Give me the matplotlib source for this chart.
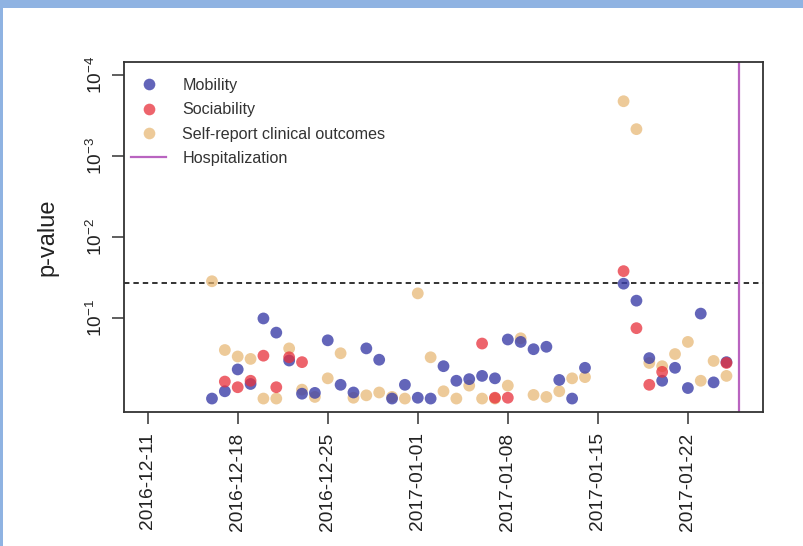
import numpy as np
import pandas as pd
import matplotlib
matplotlib.use("Agg")
import matplotlib.pyplot as plt
import matplotlib.dates as mdates
from matplotlib.lines import Line2D
from matplotlib.patches import Rectangle

plt.rcParams["font.family"] = ["Liberation Sans", "DejaVu Sans"]
plt.rcParams["mathtext.fontset"] = "custom"
plt.rcParams["mathtext.rm"] = "Liberation Sans"
plt.rcParams["mathtext.it"] = "Liberation Sans:italic"

# daily -log10(p) scores, 2016-12-16 .. 2017-01-25
dates = pd.date_range("2016-12-16", "2017-01-25", freq="D")
nan = np.nan
mobility = [
    0.00, 0.09, 0.36, 0.18, 0.99, 0.815, 0.47, 0.06, 0.07, 0.72,
    0.17, 0.075, 0.62, 0.48, 0.00, 0.17, 0.01, 0.00, 0.40, 0.22,
    0.24, 0.28, 0.25, 0.73, 0.70, 0.61, 0.64, 0.23, 0.00, 0.38,
    nan, nan, 1.42, 1.21, 0.50, 0.22, 0.38, 0.13, 1.05, 0.20,
    0.45,
]
sociability = [
    nan, 0.21, 0.14, 0.22, 0.53, 0.14, 0.51, 0.45, nan, nan,
    nan, nan, nan, nan, nan, nan, nan, nan, nan, nan,
    nan, 0.68, 0.01, 0.01, nan, nan, nan, nan, nan, nan,
    nan, nan, 1.575, 0.87, 0.17, 0.33, nan, nan, nan, nan,
    0.44,
]
self_report = [
    1.45, 0.60, 0.52, 0.49, 0.00, 0.00, 0.62, 0.11, 0.02, 0.25,
    0.56, 0.01, 0.04, 0.075, 0.02, 0.00, 1.30, 0.51, 0.09, 0.00,
    0.16, 0.00, 0.00, 0.16, 0.745, 0.045, 0.02, 0.09, 0.25, 0.265,
    nan, nan, 3.675, 3.33, 0.44, 0.40, 0.55, 0.70, 0.22, 0.465,
    0.28,
]
hospitalization = pd.Timestamp("2017-01-26")
threshold = 1.425

tick_dates = ["2016-12-11", "2016-12-18", "2016-12-25", "2017-01-01",
              "2017-01-08", "2017-01-15", "2017-01-22"]
ytick_vals = [1, 2, 3, 4]
ytick_labels = [r"$10^{-1}$", r"$10^{-2}$", r"$10^{-3}$", r"$10^{-4}$"]

BLUE = (0.235, 0.247, 0.66, 0.8)
RED = (0.91, 0.19, 0.23, 0.75)
TAN = (0.90, 0.705, 0.43, 0.7)
PURPLE = "#b964c0"
MS = 72

fig = plt.figure(figsize=(8.04, 5.46), dpi=100)
fig.patch.set_facecolor("white")
# light blue frame along the top and left edges
fig.patches.append(Rectangle((0, 1 - 8 / 546), 1, 8 / 546, transform=fig.transFigure,
                             facecolor="#8fb3e2", edgecolor="none", zorder=0))
fig.patches.append(Rectangle((0, 0), 3 / 804, 1, transform=fig.transFigure,
                             facecolor="#8fb3e2", edgecolor="none", zorder=0))

ax = fig.add_axes([124 / 804, 1 - 411.5 / 546, (763 - 124) / 804, (411.5 - 62) / 546])

x = mdates.date2num(dates)
ax.scatter(x, self_report, s=MS, color=TAN, edgecolors="none", zorder=3)
ax.scatter(x, mobility, s=MS, color=BLUE, edgecolors="none", zorder=4)
ax.scatter(x, sociability, s=MS, color=RED, edgecolors="none", zorder=5)

ax.axhline(threshold, color="#222222", lw=1.3, ls=(0, (3.0, 2.2)), zorder=2)
ax.axvline(mdates.date2num(hospitalization), color=PURPLE, lw=1.6, zorder=2)

x0 = mdates.date2num(pd.Timestamp("2016-12-11"))
x1 = mdates.date2num(hospitalization)
span = x1 - x0
ax.set_xlim(x0 - 0.04 * span, x1 + 0.04 * span)
ax.set_ylim(-0.16, 4.16)

ax.set_xticks(mdates.date2num(pd.to_datetime(tick_dates)))
ax.set_xticklabels(tick_dates, rotation=90, fontsize=13.8, color="#222222")
ax.set_yticks(ytick_vals)
ax.set_yticklabels(ytick_labels, rotation=90, fontsize=13.8, color="#222222",
                   va="center")
ax.tick_params(axis="both", length=8.6, width=1.1, color="#333333")
ax.tick_params(axis="x", pad=6.5)
ax.tick_params(axis="y", pad=4)

ax.set_ylabel("p-value", fontsize=17, color="#222222", labelpad=20)

for spine in ax.spines.values():
    spine.set_color("#333333")
    spine.set_linewidth(1.3)

handles = [
    Line2D([], [], ls="none", marker="o", markersize=8.4, markerfacecolor=BLUE,
           markeredgecolor="none"),
    Line2D([], [], ls="none", marker="o", markersize=8.4, markerfacecolor=RED,
           markeredgecolor="none"),
    Line2D([], [], ls="none", marker="o", markersize=8.4, markerfacecolor=TAN,
           markeredgecolor="none"),
    Line2D([], [], color=PURPLE, lw=1.6),
]
labels = ["Mobility", "Sociability", "Self-report clinical outcomes", "Hospitalization"]
ax.legend(handles, labels, loc="upper left", bbox_to_anchor=(-0.007, 0.987),
          frameon=False, fontsize=11.6, handlelength=2.2, handletextpad=1.0,
          labelspacing=0.58, borderaxespad=0.3, labelcolor="#333333")

fig.savefig("out.png", dpi=100, facecolor=fig.get_facecolor())
